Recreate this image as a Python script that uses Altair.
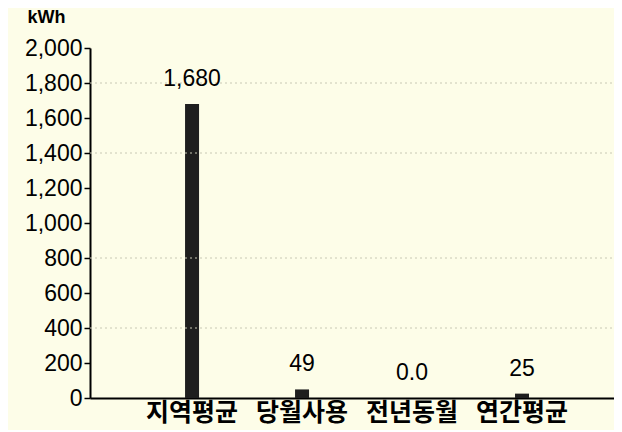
import altair as alt
import pandas as pd

categories = ["지역평균", "당월사용", "전년동월", "연간평균"]
values = [1680, 49, 0, 25]
value_labels = ["1,680", "49", "0.0", "25"]
grid_values = [400, 800, 1400, 1800]
y_ticks = [0, 200, 400, 600, 800, 1000, 1200, 1400, 1600, 1800, 2000]

df = pd.DataFrame({"cat": categories, "val": values, "lab": value_labels})
gdf = pd.DataFrame({"g": grid_values})

x_scale = alt.Scale(paddingOuter=0.382, paddingInner=0.0, align=0.56)
y_scale = alt.Scale(domain=[0, 2000], nice=False)

x_axis = alt.Axis(title=None, labelAngle=0, ticks=False,
                  labelFont="Noto Sans CJK KR", labelFontWeight="bold",
                  labelFontSize=25, labelPadding=2, labelOverlap=False)
y_axis = alt.Axis(values=y_ticks, format=",d", title="kWh", titleAngle=0,
                  titleX=-44, titleY=-22, titleAlign="center",
                  titleFont="Liberation Sans", titleFontSize=18,
                  titleFontWeight="bold", labelFont="Liberation Sans",
                  labelFontSize=23, tickSize=6, tickWidth=1.5,
                  labelPadding=2, labelOverlap=False)

bars = alt.Chart(df).mark_bar(size=14, color="#1e1e1e").encode(
    x=alt.X("cat:N", sort=categories, scale=x_scale, axis=x_axis),
    y=alt.Y("val:Q", scale=y_scale, axis=y_axis)
)

grid = alt.Chart(gdf).mark_rule(color="#c8c8b4", strokeDash=[2, 3], strokeWidth=1).encode(
    y=alt.Y("g:Q", scale=y_scale, axis=y_axis),
    x=alt.value(0), x2=alt.value(524)
)

labels = alt.Chart(df).mark_text(baseline="bottom", dy=-13, fontSize=23,
                                 font="Liberation Sans", color="#000").encode(
    x=alt.X("cat:N", sort=categories, scale=x_scale, axis=x_axis),
    y=alt.Y("val:Q", scale=y_scale, axis=y_axis),
    text="lab:N"
)

chart = alt.layer(bars, grid, labels).properties(
    width=524, height=350,
    autosize=alt.AutoSizeParams(type="none"),
    padding={"left": 82, "top": 40, "right": 0, "bottom": 32},
    background="#fdfde8"
).configure_view(stroke=None).configure_axis(
    grid=False, domainColor="#000", domainWidth=2,
    tickColor="#000", labelColor="#000", titleColor="#000"
)

chart.save("out.html", embed_options={"renderer": "svg", "actions": False})
